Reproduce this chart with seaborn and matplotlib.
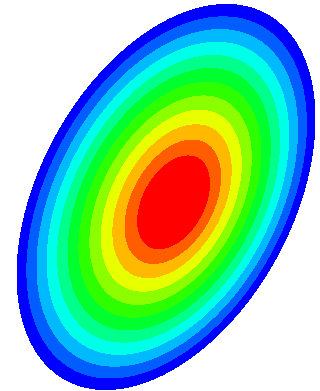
import numpy as np
import seaborn as sns
import matplotlib
matplotlib.use("Agg")
import matplotlib.pyplot as plt

sns.set_style("white")

# domain: tilted ellipse (image units, y grows downward)
center = [166.0, 197.0]
shape_xx, shape_yy, shape_xy = 22201.0, 37056.0, -11622.0
# location of the peak and flattening of the profile near it
peak = [176.0, 204.0]
profile_power = 1.2

# contour levels (field is 0 on the boundary)
levels = [0.0, 0.074, 0.149, 0.223, 0.298, 0.372, 0.447, 0.521, 0.596, 0.670, 0.745, 0.819, 1.0]
band_colors = ["#0000FF", "#005DFF", "#00B9FF", "#00FFE8", "#00FF8B", "#00FF2E",
               "#2EFF00", "#8BFF00", "#E8FF00", "#FFB900", "#FF5D00", "#FF0000"]

# grid
xs = np.linspace(0, 320, 961)
ys = np.linspace(0, 391, 1174)
X, Y = np.meshgrid(xs, ys)

# gauge of the ellipse seen from the peak
M = np.linalg.inv(np.array([[shape_xx, shape_xy], [shape_xy, shape_yy]]))
w = np.array(peak) - np.array(center)
dx, dy = X - peak[0], Y - peak[1]
dAd = M[0, 0] * dx**2 + 2 * M[0, 1] * dx * dy + M[1, 1] * dy**2
wAd = (M[0, 0] * w[0] + M[0, 1] * w[1]) * dx + (M[0, 1] * w[0] + M[1, 1] * w[1]) * dy
wAw = w @ M @ w
with np.errstate(divide="ignore", invalid="ignore"):
    s = (-wAd + np.sqrt(wAd**2 - dAd * (wAw - 1))) / dAd
    rho = np.where(dAd > 0, 1.0 / s, 0.0)
Z = 1.0 - rho**profile_power

fig = plt.figure(figsize=(3.2, 3.91), dpi=100)
ax = fig.add_axes([0, 0, 1, 1])
ax.contourf(X, Y, Z, levels=levels, colors=sns.color_palette(band_colors))
ax.set_xlim(0, 320)
ax.set_ylim(391, 0)
ax.set_aspect("equal")
ax.axis("off")

fig.savefig("out.png", dpi=100, facecolor="white")
